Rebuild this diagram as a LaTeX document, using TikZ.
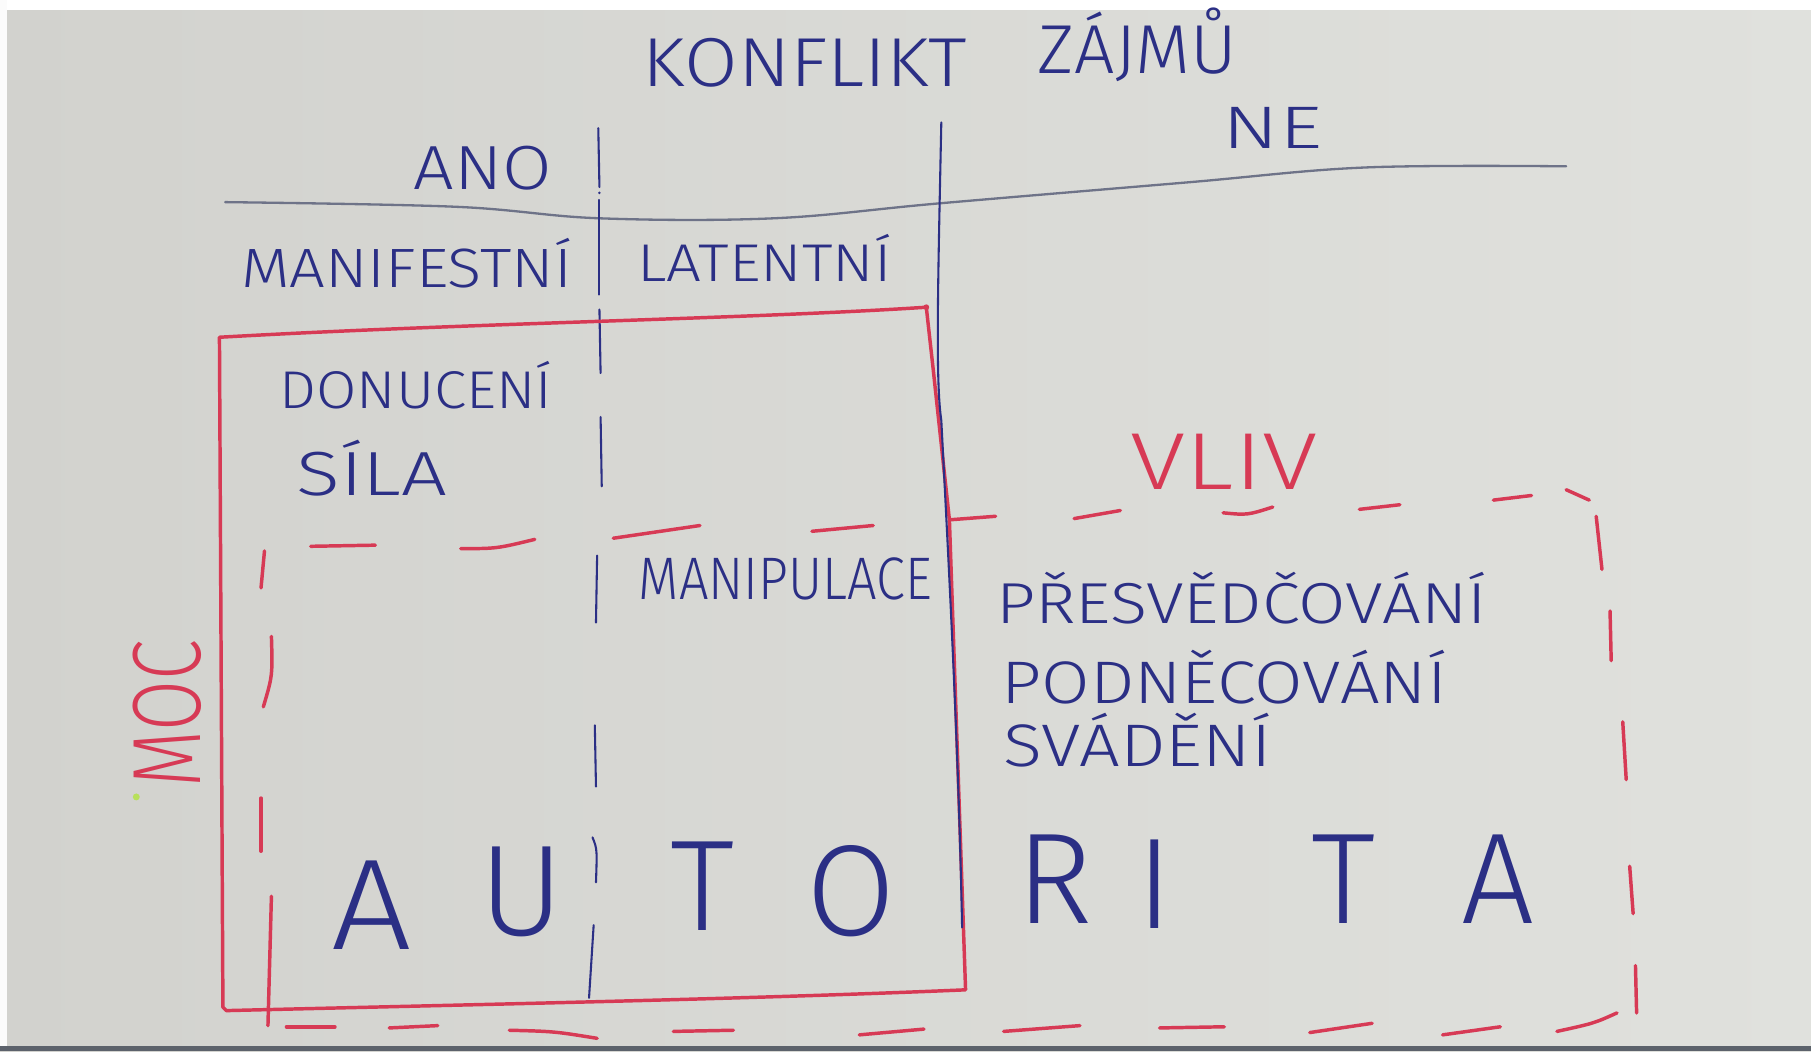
\documentclass[tikz,border=0pt]{standalone}
\usepackage{fontspec}
\IfFontExistsTF{Fira Sans Light}{\setmainfont{Fira Sans Light}}{\setmainfont{Liberation Sans}}
\definecolor{ink}{HTML}{2B2F85}
\definecolor{pen}{HTML}{D73A55}
\definecolor{grayline}{HTML}{6E7388}
\definecolor{boardL}{HTML}{D2D2CE}
\definecolor{boardR}{HTML}{E0E1DD}
\definecolor{strip}{HTML}{5C626B}
\tikzset{
  bluetxt/.style={text=ink, inner sep=0pt, anchor=base},
  redtxt/.style={text=pen, inner sep=0pt, anchor=base},
  redpen/.style={draw=pen, line width=1.5pt, line cap=round, line join=round},
  bluepen/.style={draw=ink, line width=0.9pt, line cap=round},
  graypen/.style={draw=grayline, line width=1pt, line cap=round},
  fs/.style={font=\fontsize{#1}{#1}\selectfont}
}
\begin{document}
\begin{tikzpicture}[x=0.5pt,y=-0.5pt]
\useasboundingbox (0,0) rectangle (1568,910);
% board
\shade[left color=boardL, right color=boardR] (0,0) rectangle (1568,910);
\fill[white] (0,0) rectangle (1568,9);
\fill[white!92!boardL] (0,0) rectangle (6,910);
\fill[strip] (0,906) rectangle (1568,910);
\fill[yellow!60!green!70!white] (118,690) circle (3);

% gray header line
\draw[graypen] plot[smooth, tension=0.6] coordinates {(195,175) (394,179) (519,189) (670,189) (814,176) (1027,158) (1182,145) (1356,144)};

% blue vertical line 1 (segmented)
\draw[bluepen] (518,111) -- (519,162);
\fill[ink] (519,167) circle (1.2);
\draw[bluepen] (519,173) -- (519,255);
\draw[bluepen] (519,268) -- (520,323);
\draw[bluepen] (520,361) -- (521,421);
\draw[bluepen] (517,481) -- (516,539);
\draw[bluepen] (515,628) -- (516,681);
\draw[bluepen] (513,725) .. controls (517,735) .. (516,764);
\draw[bluepen] (514,801) -- (510,864);

% solid red rectangle
\draw[redpen] (802,266) .. controls (650,276) and (400,280) .. (190,292)
  -- (193,872) -- (196,875)
  .. controls (400,870) and (650,865) .. (836,857)
  -- (822,450) -- (808,320) -- (802,266);
\fill[pen] (802,266) circle (2.5);

% blue vertical line 2
\draw[bluepen] (815,106) .. controls (812,250) and (810,330) .. (815,364)
  .. controls (822,500) and (830,650) .. (833,803);

% dashed red rectangle (VLIV)
% top
\draw[redpen] (269,473) -- (325,472);
\draw[redpen] (399,475) .. controls (430,475) .. (463,467);
\draw[redpen] (531,466) -- (606,455);
\draw[redpen] (703,460) -- (756,455);
\draw[redpen] (823,450) -- (862,447);
\draw[redpen] (930,449) -- (970,442);
\draw[redpen] (1059,444) .. controls (1080,446) .. (1102,439);
\draw[redpen] (1177,441) -- (1212,437);
\draw[redpen] (1293,433) -- (1326,429);
\draw[redpen] (1356,424) -- (1376,433);
% right
\draw[redpen] (1382,447) -- (1387,493);
\draw[redpen] (1394,529) -- (1395,572);
\draw[redpen] (1405,625) -- (1408,675);
\draw[redpen] (1411,750) -- (1414,791);
\draw[redpen] (1416,836) -- (1417,877);
% bottom
\draw[redpen] (248,889) -- (290,889);
\draw[redpen] (337,890) -- (379,888);
\draw[redpen] (441,892) .. controls (480,893) .. (517,899);
\draw[redpen] (583,893) -- (635,892);
\draw[redpen] (744,896) -- (800,891);
\draw[redpen] (869,893) -- (935,888);
\draw[redpen] (1004,890) -- (1060,889);
\draw[redpen] (1134,894) -- (1188,886);
\draw[redpen] (1249,896) -- (1299,889);
\draw[redpen] (1348,893) .. controls (1380,886) .. (1400,877);
% left
\draw[redpen] (229,477) -- (226,509);
\draw[redpen] (235,551) .. controls (236,585) .. (228,612);
\draw[redpen] (226,691) -- (226,737);
\draw[redpen] (235,776) -- (232,888);

% texts
\node[bluetxt, fs=30, xscale=1.12] (konflikt) at (697,75) {KONFLIKT};
\node[bluetxt, fs=30, xscale=1.03] (zajmu) at (985,64) {ZÁJMŮ};
\node[bluetxt, fs=27, xscale=1.15] (ano) at (418,164) {ANO};
\node[bluetxt, fs=26, xscale=1.4] (ne) at (1102,129) {NE};
\node[bluetxt, fs=24, xscale=1.14] (manif) at (352,249) {MANIFESTNÍ};
\node[bluetxt, fs=23, xscale=1.16] (latent) at (662,244) {LATENTNÍ};
\node[bluetxt, fs=23, xscale=1.1] (donuc) at (360,354) {DONUCENÍ};
\node[bluetxt, fs=27, xscale=1.3] (sila) at (322,429) {SÍLA};
\node[bluetxt, fs=26, xscale=0.87] (manip) at (680,519) {MANIPULACE};
\node[bluetxt, fs=25, xscale=1.19] (presv) at (1075,540) {PŘESVĚDČOVÁNÍ};
\node[bluetxt, fs=26, xscale=1.17] (podn) at (1060,609) {PODNĚCOVÁNÍ};
\node[bluetxt, fs=26, xscale=1.2] (svad) at (985,664) {SVÁDĚNÍ};
\node[redtxt, fs=35, xscale=1.25] (vliv) at (1060,424) {VLIV};
\node[text=pen, inner sep=0pt, fs=42, rotate=90, xscale=0.76] (moc) at (145,618) {MOC};

% AUTORITA
\node[bluetxt, fs=56, xscale=1.1] (a1) at (322,822) {A};
\node[bluetxt, fs=56] (u1) at (452,810) {U};
\node[bluetxt, fs=56] (t1) at (608,806) {T};
\node[bluetxt, fs=56] (o1) at (737,810) {O};
\node[bluetxt, fs=56] (r1) at (913,800) {R};
\node[bluetxt, fs=56] (i1) at (1000,804) {I};
\node[bluetxt, fs=56] (t2) at (1163,800) {T};
\node[bluetxt, fs=56] (a2) at (1297,800) {A};
\end{tikzpicture}
\end{document}
